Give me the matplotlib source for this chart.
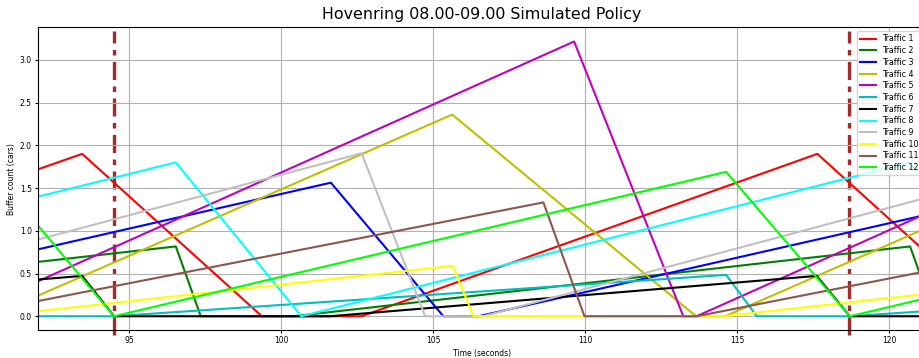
import matplotlib
matplotlib.use('Agg')
import matplotlib.pyplot as plt

# Buffer queue per traffic stream: (time, cars) corner points of the piecewise-linear trace
t1 = [92.0, 93.45, 99.36, 102.64, 117.63, 121.2]
q1 = [1.72, 1.90, 0.0, 0.0, 1.90, 0.75]
t2 = [92.0, 96.53, 97.35, 100.4, 120.68, 121.2]
q2 = [0.636, 0.817, 0.0, 0.0, 0.817, 0.30]
t3 = [92.0, 101.63, 105.33, 106.49, 121.2]
q3 = [0.783, 1.563, 0.0, 0.0, 1.186]
t4 = [92.0, 105.62, 113.64, 114.6, 121.2]
q4 = [0.241, 2.36, 0.0, 0.0, 1.03]
t5 = [92.0, 109.63, 113.22, 113.66, 121.2]
q5 = [0.41, 3.215, 0.0, 0.0, 1.20]
t6 = [92.0, 94.5, 114.63, 115.64, 118.7, 121.2]
q6 = [0.0, 0.0, 0.484, 0.0, 0.0, 0.06]
t7 = [92.0, 93.45, 94.5, 101.6, 117.61, 118.7, 121.2]
q7 = [0.43, 0.472, 0.0, 0.0, 0.472, 0.0, 0.0]
t8 = [92.0, 96.53, 100.66, 120.68, 121.2]
q8 = [1.40, 1.80, 0.0, 1.80, 1.57]
t9 = [92.0, 102.64, 104.73, 106.64, 121.2]
q9 = [0.897, 1.907, 0.0, 0.0, 1.385]
t10 = [92.0, 105.64, 106.32, 114.53, 121.2]
q10 = [0.058, 0.59, 0.0, 0.0, 0.26]
t11 = [92.0, 108.62, 109.97, 113.66, 121.2]
q11 = [0.178, 1.332, 0.0, 0.0, 0.526]
t12 = [92.0, 94.5, 114.63, 118.7, 121.2]
q12 = [1.06, 0.0, 1.69, 0.0, 0.21]

# start of each signal cycle
cycle_marks = [94.5, 118.67]

times = [t1, t2, t3, t4, t5, t6, t7, t8, t9, t10, t11, t12]
queues = [q1, q2, q3, q4, q5, q6, q7, q8, q9, q10, q11, q12]
colors = ['r', 'g', 'b', 'y', 'm', 'c', 'k', 'cyan', 'silver', 'yellow', 'tab:brown', 'lime']

fig = plt.figure(figsize=(9.2, 3.58), dpi=100)
ax = fig.add_axes([0.0414, 0.0782, 0.965, 0.8455])

for i in range(12):
    ax.plot(times[i], queues[i], color=colors[i], lw=1.5, label='Traffic %d' % (i + 1))

ax.vlines(cycle_marks, -0.22, 3.34, colors='brown', lw=2.4,
          linestyles=[(0, (5.4, 1.95, 1.65, 1.95))], clip_on=False, zorder=1.5)

ax.set_xlim(92, 121.2)
ax.set_ylim(-0.161, 3.381)
ax.grid(True)
ax.set_title('Hovenring 08.00-09.00 Simulated Policy', fontsize=11.4)
ax.set_xlabel('Time (seconds)', fontsize=5.5, labelpad=2.5)
ax.set_ylabel('Buffer count (cars)', fontsize=5.5, labelpad=3)
ax.tick_params(axis='both', which='major', labelsize=5.5, length=2.2, pad=2.2)
ax.legend(loc='upper right', fontsize=5.7, labelspacing=0.34)

fig.savefig('out.png', dpi=100)
